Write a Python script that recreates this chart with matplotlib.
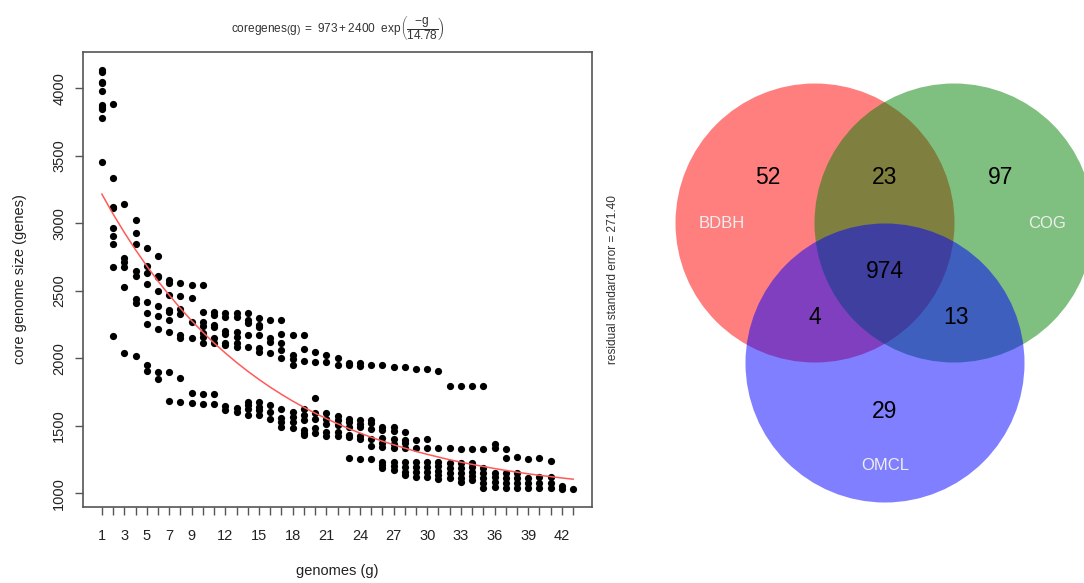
import matplotlib
matplotlib.use('Agg')
import matplotlib.pyplot as plt
from matplotlib.patches import Circle

plt.rcParams['font.family'] = 'Liberation Sans'
plt.rcParams['mathtext.fontset'] = 'custom'
plt.rcParams['mathtext.rm'] = 'Liberation Sans'
plt.rcParams['mathtext.it'] = 'Liberation Sans:italic'

# core genome size samples for each number of genomes
genomes = list(range(1, 44))
core_sizes = [
    [4135, 4122, 4049, 4037, 3980, 3876, 3859, 3847, 3778, 3452],
    [3881, 3338, 3123, 3111, 2963, 2906, 2844, 2674, 2167],
    [3141, 2743, 2714, 2677, 2526, 2037],
    [3024, 2930, 2844, 2647, 2610, 2439, 2410, 2019],
    [2815, 2686, 2630, 2548, 2417, 2339, 2252, 1950, 1906],
    [2760, 2612, 2600, 2501, 2390, 2313, 2215, 1896, 1844],
    [2580, 2558, 2469, 2358, 2343, 2284, 2193, 1898, 1686],
    [2555, 2459, 2363, 2326, 2173, 2148, 1856, 1674],
    [2543, 2450, 2269, 2148, 1741, 1667],
    [2543, 2345, 2271, 2239, 2185, 2155, 2116, 1736, 1661],
    [2345, 2321, 2247, 2233, 2150, 2115, 1736, 1661],
    [2333, 2308, 2204, 2178, 2115, 2098, 1647, 1617],
    [2333, 2304, 2197, 2160, 2111, 2086, 1630, 1604],
    [2336, 2284, 2264, 2173, 2086, 1679, 1654, 1623, 1580],
    [2299, 2247, 2228, 2173, 2074, 2049, 1679, 1642, 1617, 1580],
    [2284, 2148, 2123, 2037, 1654, 1604, 1548],
    [2280, 2178, 2111, 2061, 2000, 1623, 1556, 1531, 1494],
    [2173, 2024, 1992, 1950, 1604, 1567, 1531, 1486],
    [2173, 2067, 1980, 1624, 1580, 1543, 1469, 1444, 1432],
    [2049, 1975, 1704, 1593, 1550, 1481, 1449],
    [2024, 1973, 1595, 1550, 1514, 1456, 1425],
    [2000, 1950, 1573, 1543, 1506, 1456, 1425],
    [1967, 1950, 1548, 1531, 1494, 1432, 1416, 1259],
    [1964, 1944, 1543, 1513, 1490, 1425, 1401, 1252],
    [1952, 1543, 1519, 1474, 1400, 1350, 1252],
    [1952, 1489, 1469, 1407, 1370, 1341, 1234, 1210, 1185],
    [1938, 1490, 1464, 1401, 1365, 1335, 1234, 1203, 1173],
    [1938, 1456, 1395, 1370, 1335, 1234, 1197, 1160, 1136],
    [1918, 1395, 1335, 1234, 1197, 1160, 1123],
    [1918, 1400, 1335, 1234, 1197, 1160, 1123],
    [1908, 1335, 1234, 1203, 1168, 1136, 1104],
    [1796, 1335, 1227, 1185, 1148, 1111],
    [1797, 1330, 1222, 1185, 1148, 1111, 1086],
    [1797, 1330, 1225, 1197, 1160, 1128, 1099],
    [1797, 1326, 1185, 1148, 1111, 1074, 1037],
    [1365, 1333, 1148, 1123, 1086, 1049],
    [1326, 1259, 1148, 1111, 1074, 1037],
    [1267, 1148, 1111, 1074, 1037],
    [1252, 1111, 1074, 1037],
    [1259, 1123, 1074, 1037],
    [1241, 1118, 1074, 1037],
    [1054, 1030],
    [1030],
]

# red fitted curve, value at each g
fit_values = [3216, 3069, 2932, 2804, 2684, 2572, 2468, 2370, 2278, 2193,
              2113, 2039, 1969, 1904, 1843, 1786, 1733, 1683, 1637, 1593,
              1553, 1515, 1479, 1446, 1415, 1386, 1359, 1334, 1310, 1288,
              1268, 1248, 1230, 1214, 1198, 1183, 1169, 1156, 1144, 1133,
              1123, 1113, 1104]

xtick_labels_shown = [1, 3, 5, 7, 9, 12, 15, 18, 21, 24, 27, 30, 33, 36, 39, 42]
yticks = [1000, 1500, 2000, 2500, 3000, 3500, 4000]

# venn diagram
venn_sets = ['BDBH', 'COG', 'OMCL']
venn_colors = ['red', 'green', 'blue']
venn_counts = {'100': 52, '110': 23, '010': 97, '111': 974,
               '101': 4, '011': 13, '001': 29}

W, H = 1084, 583
fig = plt.figure(figsize=(W / 100, H / 100), dpi=100)

ax1 = fig.add_axes([83 / W, 1 - 507 / H, (592 - 83) / W, (507 - 52) / H])
xs = [g for g, vals in zip(genomes, core_sizes) for v in vals]
ys = [v for vals in core_sizes for v in vals]
ax1.scatter(xs, ys, s=27, c='black', linewidths=0, zorder=2)
ax1.plot(genomes, fit_values, color='#ff5a5a', lw=1.1, zorder=3)
ax1.set_xlim(-0.68, 44.68)
ax1.set_ylim(898, 4269)

ax1.set_xticks(genomes)
ax1.set_xticklabels([str(g) if g in xtick_labels_shown else '' for g in genomes])
ax1.set_yticks(yticks)
ax1.set_yticklabels([str(v) for v in yticks], rotation=90, va='center')
ax1.tick_params(axis='both', length=6, width=1, color='#555555',
                labelsize=10.5, labelcolor='#222222')
ax1.tick_params(axis='x', pad=10)
ax1.tick_params(axis='y', pad=6)
for sp in ax1.spines.values():
    sp.set_color('#555555')
    sp.set_linewidth(1.2)
ax1.set_xlabel('genomes (g)', fontsize=10.5, color='#222222', labelpad=15)
ax1.set_ylabel('core genome size (genes)', fontsize=10.5, color='#222222', labelpad=18)

fig.text(338 / W, 1 - 28 / H,
         r'$\mathrm{coregenes}\left(\mathrm{g}\right)\ =\ 973+2400\ \ \mathrm{exp}\left(\dfrac{-\mathrm{g}}{14.78}\right)$',
         ha='center', va='center', fontsize=8.6, color='#333333')
fig.text(613 / W, 1 - 280 / H, 'residual standard error = 271.40',
         rotation=90, ha='center', va='center', fontsize=8.6, color='#333333')

# right panel: venn in pixel coordinates
ax2 = fig.add_axes([600 / W, 0, (W - 600) / W, 1])
ax2.set_xlim(600, W)
ax2.set_ylim(H, 0)
ax2.axis('off')
centers = [(815, 223), (954, 223), (885, 363)]
for (cx, cy), col in zip(centers, venn_colors):
    ax2.add_patch(Circle((cx, cy), 139.5, facecolor=col, alpha=0.5,
                         edgecolor='none'))

count_pos = {'100': (768, 178), '110': (885, 178), '010': (1001, 178),
             '111': (885, 271), '101': (815, 318), '011': (956, 318),
             '001': (885, 411)}
for k, v in venn_counts.items():
    x, y = count_pos[k]
    ax2.text(x, y, str(v), ha='center', va='center', fontsize=16.5, color='black')

label_pos = [(722, 224), (1047, 224), (885, 466)]
for name, (x, y) in zip(venn_sets, label_pos):
    ax2.text(x, y, name, ha='center', va='center', fontsize=12, color='#eeeeee')

fig.savefig('out.png', dpi=100)
